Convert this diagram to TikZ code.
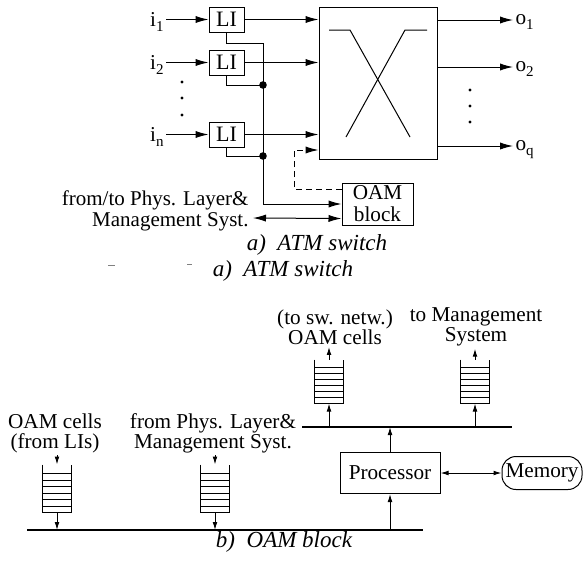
\documentclass[tikz,border=0pt]{standalone}
\usepackage{fontspec}
\setmainfont{Liberation Serif}
\usetikzlibrary{arrows.meta,calc}
\newcommand\mysub[1]{\smash{\raisebox{-0.5ex}{\fontsize{7.5}{8}\selectfont #1}}}
\newcommand\drawqueue[1]{%
  \draw (#1.north west) -- (#1.south west) -- (#1.south east) -- (#1.north east);
  \foreach \k in {1,...,6}
    \draw ($(#1.south west)!{\k*0.135}!(#1.north west)$) -- ($(#1.south east)!{\k*0.135}!(#1.north east)$);
}
\tikzset{
  big/.style={-{Latex[length=6.5pt,width=3.6pt]}},
  bigboth/.style={{Latex[length=6.5pt,width=3.6pt]}-{Latex[length=6.5pt,width=3.6pt]}},
  small/.style={-{Latex[length=4pt,width=2.4pt]}},
  smallboth/.style={{Latex[length=4pt,width=2.4pt]}-{Latex[length=4pt,width=2.4pt]}},
  box/.style={draw, inner sep=0pt},
  libox/.style={box, minimum width=17.5pt, minimum height=12.5pt, font=\fontsize{11}{12}\selectfont},
  lbl/.style={inner sep=1pt},
  queuebox/.style={inner sep=0pt, minimum width=14pt},
  bus/.style={line width=1pt},
  caption/.style={font=\fontsize{11.5}{13}\selectfont\itshape},
  twoline/.style={align=center, inner sep=1pt, font=\fontsize{10.6}{10}\selectfont},
}
\begin{document}
\begin{tikzpicture}[x=0.5pt, y=-0.5pt, font=\fontsize{10.6}{12}\selectfont, line width=0.5pt]
\useasboundingbox (0,0) rectangle (583,563);

% ---------------- a) ATM switch ----------------
\node[libox] (li1) at (226.5,19.5) {LI};
\node[libox] (li2) at (226.5,62.5) {LI};
\node[libox] (lin) at (226.5,134.5) {LI};

\node[lbl, anchor=east] (i1) at (166,19.5) {i\mysub{1}};
\node[lbl, anchor=east] (i2) at (166,62.5) {i\mysub{2}};
\node[lbl, anchor=east] (in) at (166,134.5) {i\mysub{n}};
\draw[big] (i1) -- (li1);
\draw[big] (i2) -- (li2);
\draw[big] (in) -- (lin);

\foreach \yy in {82,98,115} \fill (182,\yy) circle (0.8pt);

\node[box, minimum width=59pt, minimum height=76pt] (sw) at (378,83) {};
\draw (329,30) -- (350,30) -- (410,137);
\draw (427,30) -- (405,30) -- (346,137);

\draw[big] (li1.east) -- (li1.east -| sw.west);
\draw[big] (li2.east) -- (li2.east -| sw.west);
\draw[big] (lin.east) -- (lin.east -| sw.west);

\node[lbl, anchor=west] (o1) at (513,20) {o\mysub{1}};
\node[lbl, anchor=west] (o2) at (513,67) {o\mysub{2}};
\node[lbl, anchor=west] (oq) at (513,146) {o\mysub{q}};
\draw[big] (sw.east |- o1) -- (o1);
\draw[big] (sw.east |- o2) -- (o2);
\draw[big] (sw.east |- oq) -- (oq);

\foreach \yy in {90,106,122} \fill (470,\yy) circle (0.8pt);

\node[box, minimum width=35.5pt, minimum height=21pt, align=center,
      font=\fontsize{10.6}{11}\selectfont] (oam) at (377.5,204) {OAM\\block};

\coordinate (jt) at (263,43);
\coordinate (j2) at (263,85);
\coordinate (jn) at (263,156);
\coordinate (jb) at (263,204);
\draw (li1.south) |- (jt) -- (jb);
\draw (li2.south) |- (j2);
\draw (lin.south) |- (jn);
\fill (j2) circle (1.9pt);
\fill (jn) circle (1.9pt);
\draw[big] (jb) -- (oam.west);

\coordinate (dc) at (294,150);
\draw[densely dashed, big] ($(oam.north west)+(0,7)$) -| (dc) -- (dc -| sw.west);

\coordinate (ext) at (253,218);
\draw[bigboth] (ext) -- ($(oam.south west)+(0,-7)$);
\node[anchor=east, align=right, inner sep=1pt, font=\fontsize{10.5}{8}\selectfont]
  (extlbl) at (251,211) {from/to Phys. Layer\&\\Management Syst.};

\node[caption] (capa) at (317,245) {a)\ \ ATM switch};
\node[caption] (capa2) at (283,271) {a)\ \ ATM switch};
\draw[gray] (108,265) -- (115,265);
\draw[gray] (187,264) -- (192,264);

% ---------------- b) OAM block ----------------
\coordinate (lb1) at (27,530);
\coordinate (lb2) at (423,530);
\coordinate (ub1) at (302,427);
\coordinate (ub2) at (512,427);
\draw[bus] (lb1) -- (lb2);
\draw[bus] (ub1) -- (ub2);

\node[queuebox, minimum height=23.5pt] (qa) at (57,488.5) {};
\node[queuebox, minimum height=23.5pt] (qb) at (215,488.5) {};
\node[queuebox, minimum height=21.5pt] (q1) at (329,381.5) {};
\node[queuebox, minimum height=21.5pt] (q2) at (475,381.5) {};
\drawqueue{qa}
\drawqueue{qb}
\drawqueue{q1}
\drawqueue{q2}

\node[twoline] (ta) at (55,433) {OAM cells\\(from LIs)};
\node[twoline] (tb) at (213,433) {from Phys. Layer\&\\Management Syst.};
\node[twoline] (t1) at (335,327) {(to sw. netw.)\\OAM cells};
\node[twoline] (t2) at (476,327) {to Management\\System};

\draw[small] (qa.north |- ta.south) -- (qa.north);
\draw[small] (qb.north |- tb.south) -- (qb.north);
\draw[small] (qa.south) -- (qa.south |- lb1);
\draw[small] (qb.south) -- (qb.south |- lb1);

\draw[small] (q1.south |- ub1) -- (q1.south);
\draw[small] (q2.south |- ub1) -- (q2.south);
\draw[small] (q1.north) -- (q1.north |- t1.south);
\draw[small] (q2.north) -- (q2.north |- t2.south);

\node[box, minimum width=50pt, minimum height=20.5pt] (proc) at (390,473) {Processor};
\node[draw, rounded corners=7pt, inner sep=0pt, minimum width=40pt, minimum height=16.5pt] (mem) at (542,473) {Memory};
\draw[smallboth] (proc.east) -- (mem.west);
\draw[small] (proc.south |- lb1) -- (proc.south);
\draw[small] (proc.north) -- (proc.north |- ub1);

\node[caption] (capb) at (284,542) {b)\ \ OAM block};
\end{tikzpicture}
\end{document}
